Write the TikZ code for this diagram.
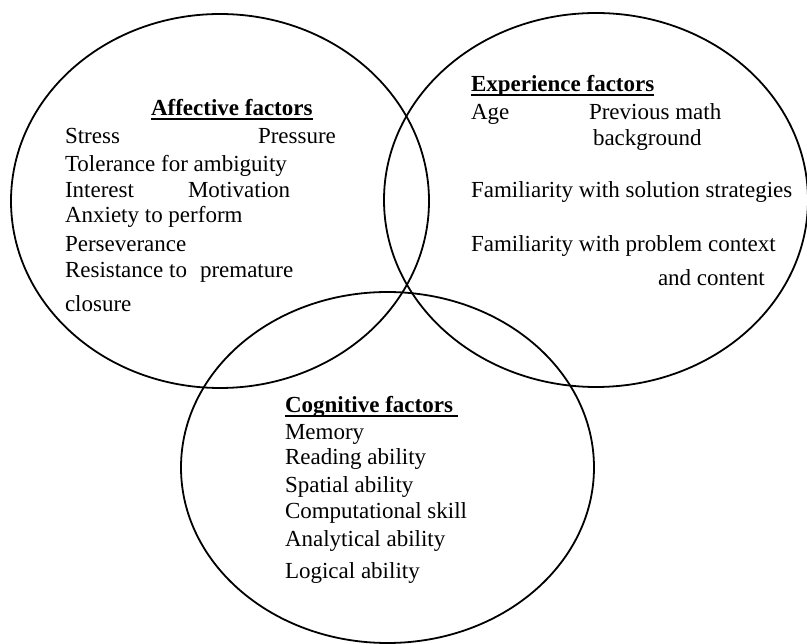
\documentclass[tikz,border=0pt]{standalone}
\usepackage{fontspec}
\setmainfont{Liberation Serif}
\begin{document}
\begin{tikzpicture}[x=1pt,y=1pt,
  circ/.style={draw=black,line width=1.8pt},
  txt/.style={anchor=base west,inner sep=0pt,outer sep=0pt,font=\fontsize{23}{26}\selectfont},
  head/.style={txt,font=\fontsize{23}{26}\selectfont\bfseries},
  uline/.style={line width=1.8pt}]
\useasboundingbox (0,0) rectangle (807,-644);
\draw[circ] (220,-201) ellipse [x radius=209, y radius=187];
\draw[circ] (596,-200) ellipse [x radius=212, y radius=187];
\draw[circ] (387.5,-467.5) ellipse [x radius=206.5, y radius=175.5];
% Affective
\node[head] (ha) at (151,-116) {Affective factors};
\draw[uline] ([yshift=-3]ha.base west) -- ([yshift=-3]ha.base east);
\node[txt] (a1) at (65,-144) {Stress};
\node[txt] (a2) at (258,-144) {Pressure};
\node[txt] (a3) at (65,-172) {Tolerance for ambiguity};
\node[txt] (a4) at (65,-198) {Interest};
\node[txt] (a5) at (188,-198) {Motivation};
\node[txt] (a6) at (65,-223) {Anxiety to perform};
\node[txt] (a7) at (65,-252) {Perseverance};
\node[txt] (a8) at (65,-278) {Resistance to};
\node[txt] (a9) at (200,-278) {premature};
\node[txt] (a10) at (65,-312) {closure};
% Experience
\node[head] (he) at (471,-92) {Experience factors};
\draw[uline] ([yshift=-3]he.base west) -- ([yshift=-3]he.base east);
\node[txt] (e1) at (471,-120) {Age};
\node[txt] (e2) at (589,-120) {Previous math};
\node[txt] (e3) at (593,-146) {background};
\node[txt] (e4) at (471,-198) {Familiarity with solution strategies};
\node[txt] (e5) at (471,-252) {Familiarity with problem context};
\node[txt] (e6) at (658,-286) {and content};
% Cognitive
\node[head] (hc) at (285,-413) {Cognitive factors};
\draw[uline] ([yshift=-3]hc.base west) -- ([yshift=-3,xshift=5]hc.base east);
\node[txt] (c1) at (285,-440) {Memory};
\node[txt] (c2) at (285,-465) {Reading ability};
\node[txt] (c3) at (285,-493) {Spatial ability};
\node[txt] (c4) at (285,-519) {Computational skill};
\node[txt] (c5) at (285,-547) {Analytical ability};
\node[txt] (c6) at (285,-579) {Logical ability};
\end{tikzpicture}
\end{document}
